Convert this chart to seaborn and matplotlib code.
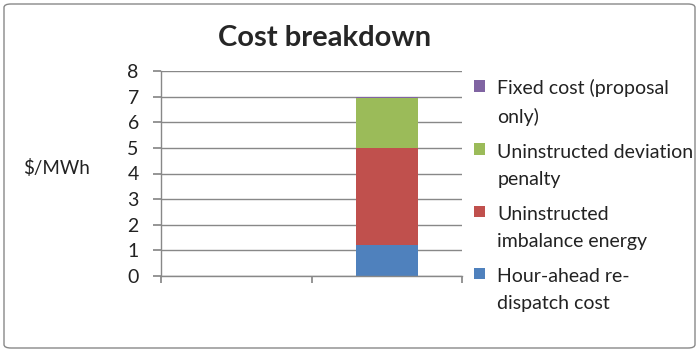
import matplotlib
matplotlib.use("Agg")
import matplotlib.pyplot as plt
import seaborn as sns
import pandas as pd
import numpy as np
from matplotlib.patches import FancyBboxPatch, Rectangle
from matplotlib.legend_handler import HandlerPatch

categories = ["Current", "Proposal"]
series_names = ["Hour-ahead re-\ndispatch cost",
                "Uninstructed\nimbalance energy",
                "Uninstructed deviation\npenalty",
                "Fixed cost (proposal\nonly)"]
hour_ahead = [0.0, 1.22]
imbalance = [0.0, 3.78]
deviation = [0.0, 1.93]
fixed = [0.0, 0.07]
colors = ["#4F81BD", "#C0504D", "#9BBB59", "#8064A2"]
yticks = [0, 1, 2, 3, 4, 5, 6, 7, 8]

sns.set_theme(style="white")
plt.rcParams['font.family'] = ['Lato', 'DejaVu Sans']

values = [hour_ahead, imbalance, deviation, fixed]
cum = np.cumsum(np.array(values), axis=0)

fig = plt.figure(figsize=(6.99, 3.52), dpi=100)
ax = fig.add_axes([161/699, 1-276/352, (462-161)/699, (276-71)/352])

for i in range(len(series_names) - 1, -1, -1):
    df = pd.DataFrame({"cat": categories, "val": cum[i]})
    sns.barplot(data=df, x="cat", y="val", color=colors[i], width=0.41,
                saturation=1, ax=ax, label=series_names[i], linewidth=0)

ax.set_ylim(0, 8)
ax.set_xlim(-0.5, 1.5)
ax.set_yticks(yticks)
ax.set_yticklabels([str(t) for t in yticks], fontsize=14, color="#222222")
ax.set_xticks([-0.5, 0.5, 1.5])
ax.set_xticklabels([])
ax.set_xlabel("")
ax.set_ylabel("")
ax.yaxis.grid(True, color="#888888", linewidth=1)
ax.set_axisbelow(True)
for s in ["top", "right"]:
    ax.spines[s].set_visible(False)
for s in ["left", "bottom"]:
    ax.spines[s].set_color("#888888")
    ax.spines[s].set_linewidth(1)
ax.tick_params(axis="y", length=6, color="#888888", direction="out", pad=10, left=True)
ax.tick_params(axis="x", length=5, color="#888888", direction="out", bottom=True)

ax.set_title("Cost breakdown", fontsize=21, fontweight="bold", pad=18, x=0.545)
fig.text(57/699, 1-168/352, "$/MWh", fontsize=13.5, ha="center", va="center", color="#222222")

FS = 14
LS = 1.7
SHIFT = 12


def top_patch(legend, orig_handle, xdescent, ydescent, width, height, fontsize):
    return Rectangle((-xdescent, -ydescent + SHIFT), width, height)


h, l = ax.get_legend_handles_labels()
hp = [c.patches[-1] for c in h]
leg = ax.legend(hp, l, loc="upper left", bbox_to_anchor=(474/699, 1-79/352),
                bbox_transform=fig.transFigure, frameon=False, fontsize=FS,
                handlelength=0.55, handleheight=0.55, handletextpad=0.65,
                labelspacing=0.94, borderaxespad=0, borderpad=0,
                handler_map={p: HandlerPatch(patch_func=top_patch) for p in hp})
for t in leg.get_texts():
    t.set_color("#222222")
    t.set_linespacing(LS)

fig.patches.append(FancyBboxPatch((4/699, 4/352), 691/699, 344/352,
                                  boxstyle="round,pad=0,rounding_size=0.01",
                                  transform=fig.transFigure, fill=False,
                                  edgecolor="#888888", linewidth=1))
fig.savefig("out.png", dpi=100)
